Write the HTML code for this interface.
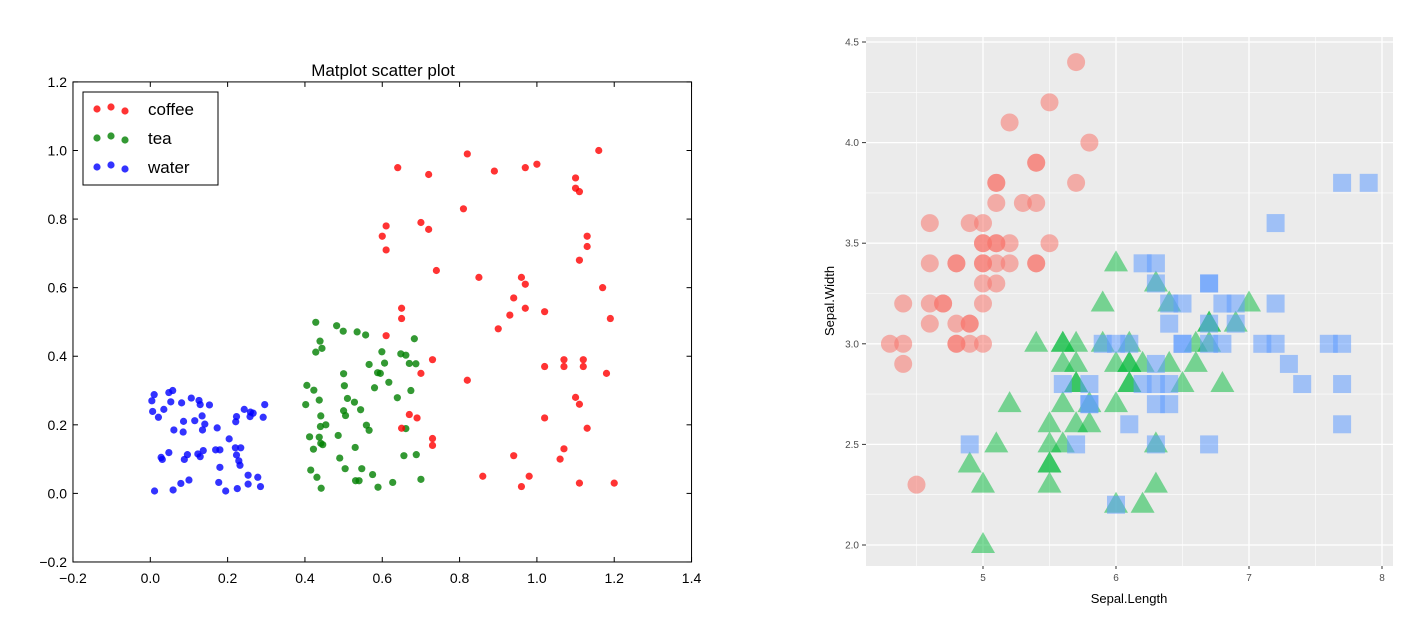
<!DOCTYPE html>
<html><head><meta charset="utf-8"><style>
body{margin:0;background:#fff;}
svg text{font-family:"Liberation Sans",sans-serif;}
</style></head><body>
<svg id="root" width="1425" height="639" xmlns="http://www.w3.org/2000/svg">
<g id="left"></g>
<g id="right"></g>
</svg>
<script>
const coffee=[[0.82,0.99],[0.64,0.95],[0.72,0.93],[0.89,0.94],[0.97,0.95],[1.00,0.96],[1.10,0.92],[1.10,0.89],[1.11,0.88],[1.16,1.00],[0.81,0.83],[0.61,0.78],[0.60,0.75],[0.61,0.71],[0.70,0.79],[0.72,0.77],[1.13,0.75],[1.13,0.72],[1.11,0.68],[0.74,0.65],[0.85,0.63],[0.96,0.63],[0.97,0.61],[1.17,0.60],[0.94,0.57],[0.97,0.54],[0.93,0.52],[1.02,0.53],[1.19,0.51],[0.65,0.54],[0.65,0.51],[0.90,0.48],[0.61,0.46],[0.73,0.39],[0.70,0.35],[0.82,0.33],[1.02,0.37],[1.07,0.39],[1.07,0.37],[1.12,0.39],[1.12,0.37],[1.18,0.35],[1.10,0.28],[1.11,0.26],[1.02,0.22],[1.13,0.19],[0.67,0.23],[0.69,0.22],[0.65,0.19],[0.73,0.16],[0.73,0.14],[1.07,0.13],[0.94,0.11],[1.06,0.10],[0.86,0.05],[0.98,0.05],[0.96,0.02],[1.11,0.03],[1.20,0.03]];
const tea=[[0.428,0.499],[0.482,0.489],[0.499,0.473],[0.535,0.471],[0.557,0.462],[0.683,0.451],[0.439,0.444],[0.444,0.423],[0.428,0.412],[0.599,0.413],[0.648,0.407],[0.661,0.403],[0.606,0.380],[0.566,0.376],[0.670,0.379],[0.687,0.378],[0.500,0.349],[0.588,0.352],[0.595,0.350],[0.405,0.315],[0.423,0.301],[0.502,0.314],[0.617,0.324],[0.580,0.308],[0.674,0.300],[0.437,0.272],[0.510,0.277],[0.528,0.266],[0.639,0.279],[0.402,0.259],[0.544,0.244],[0.500,0.241],[0.505,0.227],[0.441,0.226],[0.454,0.200],[0.440,0.195],[0.559,0.199],[0.566,0.184],[0.661,0.189],[0.412,0.165],[0.437,0.164],[0.486,0.169],[0.441,0.146],[0.446,0.142],[0.422,0.129],[0.530,0.134],[0.490,0.103],[0.656,0.110],[0.688,0.113],[0.415,0.068],[0.504,0.072],[0.547,0.072],[0.431,0.047],[0.575,0.055],[0.531,0.037],[0.540,0.037],[0.700,0.041],[0.442,0.015],[0.589,0.018],[0.627,0.032]];
const water=[[0.010,0.288],[0.004,0.270],[0.006,0.239],[0.021,0.222],[0.035,0.245],[0.048,0.294],[0.058,0.300],[0.053,0.267],[0.081,0.264],[0.106,0.278],[0.126,0.271],[0.129,0.259],[0.153,0.258],[0.086,0.210],[0.115,0.212],[0.134,0.226],[0.141,0.202],[0.135,0.185],[0.061,0.185],[0.085,0.179],[0.173,0.191],[0.204,0.159],[0.223,0.224],[0.221,0.209],[0.243,0.245],[0.259,0.237],[0.266,0.234],[0.258,0.224],[0.292,0.222],[0.296,0.259],[0.028,0.105],[0.031,0.099],[0.048,0.119],[0.088,0.099],[0.096,0.113],[0.123,0.115],[0.129,0.107],[0.137,0.125],[0.169,0.127],[0.180,0.127],[0.220,0.133],[0.234,0.133],[0.223,0.112],[0.229,0.095],[0.232,0.082],[0.180,0.076],[0.100,0.039],[0.079,0.029],[0.059,0.010],[0.011,0.007],[0.177,0.032],[0.195,0.007],[0.225,0.014],[0.253,0.053],[0.278,0.047],[0.253,0.027],[0.285,0.020]];
const leftXTicks=[-0.2,0.0,0.2,0.4,0.6,0.8,1.0,1.2,1.4];
const leftYTicks=[-0.2,0.0,0.2,0.4,0.6,0.8,1.0,1.2];

const setosa=[[5.7,4.4],[5.5,4.2],[5.2,4.1],[5.8,4.0],[5.4,3.9],[5.4,3.9],[5.1,3.8],[5.1,3.8],[5.7,3.8],[5.1,3.7],[5.3,3.7],[5.4,3.7],[4.6,3.6],[4.9,3.6],[5.0,3.6],[5.0,3.5],[5.0,3.5],[5.1,3.5],[5.1,3.5],[5.2,3.5],[5.5,3.5],[4.6,3.4],[4.8,3.4],[4.8,3.4],[5.0,3.4],[5.0,3.4],[5.1,3.4],[5.2,3.4],[5.4,3.4],[5.4,3.4],[5.0,3.3],[5.1,3.3],[4.4,3.2],[4.6,3.2],[4.7,3.2],[4.7,3.2],[5.0,3.2],[4.6,3.1],[4.8,3.1],[4.9,3.1],[4.9,3.1],[4.3,3.0],[4.4,3.0],[4.8,3.0],[4.8,3.0],[4.9,3.0],[5.0,3.0],[4.4,2.9],[4.5,2.3]];
const versicolor=[[6.0,3.4],[5.9,3.2],[6.3,3.3],[6.4,3.2],[7.0,3.2],[6.7,3.1],[6.7,3.1],[6.9,3.1],[5.4,3.0],[5.6,3.0],[5.6,3.0],[5.7,3.0],[5.9,3.0],[6.1,3.0],[6.6,3.0],[6.7,3.0],[5.6,2.9],[5.7,2.9],[6.0,2.9],[6.1,2.9],[6.1,2.9],[6.2,2.9],[6.4,2.9],[6.6,2.9],[5.7,2.8],[5.7,2.8],[6.1,2.8],[6.1,2.8],[6.5,2.8],[6.8,2.8],[5.2,2.7],[5.6,2.7],[5.8,2.7],[6.0,2.7],[5.5,2.6],[5.7,2.6],[5.8,2.6],[5.1,2.5],[5.5,2.5],[5.6,2.5],[6.3,2.5],[4.9,2.4],[5.5,2.4],[5.5,2.4],[5.0,2.3],[5.5,2.3],[6.3,2.3],[6.0,2.2],[6.2,2.2],[5.0,2.0]];
const virginica=[[7.7,3.8],[7.9,3.8],[7.2,3.6],[6.2,3.4],[6.3,3.4],[6.3,3.3],[6.7,3.3],[6.7,3.3],[6.4,3.2],[6.5,3.2],[6.8,3.2],[6.9,3.2],[7.2,3.2],[6.4,3.1],[6.7,3.1],[6.9,3.1],[5.9,3.0],[6.0,3.0],[6.1,3.0],[6.5,3.0],[6.5,3.0],[6.7,3.0],[6.8,3.0],[7.1,3.0],[7.2,3.0],[7.6,3.0],[7.7,3.0],[6.3,2.9],[7.3,2.9],[5.6,2.8],[5.8,2.8],[6.2,2.8],[6.3,2.8],[6.4,2.8],[7.4,2.8],[7.7,2.8],[5.8,2.7],[5.8,2.7],[6.3,2.7],[6.4,2.7],[6.1,2.6],[7.7,2.6],[4.9,2.5],[5.7,2.5],[6.3,2.5],[6.7,2.5],[6.0,2.2]];
const rightXTicks=[5,6,7,8];
const rightYTicks=[2.0,2.5,3.0,3.5,4.0,4.5];

const NS="http://www.w3.org/2000/svg";
function mk(parent,tag,attrs,text){const e=document.createElementNS(NS,tag);for(const k in attrs)e.setAttribute(k,attrs[k]);if(text!==undefined)e.textContent=text;parent.appendChild(e);return e;}

// LEFT
const L=document.getElementById('left');
const lx=v=>150.3+v*386.6, ly=v=>493.4-v*342.9;
let t=mk(L,'text',{x:383,y:76,'text-anchor':'middle','font-size':17,fill:'#000'},'Matplot scatter plot');

function dots(arr,col,name){arr.forEach(p=>{const c=mk(L,'circle',{cx:lx(p[0]),cy:ly(p[1]),r:3.6,fill:col,'fill-opacity':0.8});

});}
dots(water,'#0000ff','water-point');dots(tea,'#008000','tea-point');dots(coffee,'#ff0000','coffee-point');
let fr=mk(L,'rect',{x:lx(-0.2),y:ly(1.2),width:lx(1.4)-lx(-0.2),height:ly(-0.2)-ly(1.2),fill:'none',stroke:'#000','stroke-width':1});

leftXTicks.forEach(v=>{mk(L,'line',{x1:lx(v),x2:lx(v),y1:ly(-0.2),y2:ly(-0.2)-5,stroke:'#000'});mk(L,'line',{x1:lx(v),x2:lx(v),y1:ly(1.2),y2:ly(1.2)+5,stroke:'#000'});
const e=mk(L,'text',{x:lx(v),y:583,'text-anchor':'middle','font-size':14},(v<0?'\u22120.2':v.toFixed(1)));

});
leftYTicks.forEach(v=>{mk(L,'line',{x1:lx(-0.2),x2:lx(-0.2)+5,y1:ly(v),y2:ly(v),stroke:'#000'});mk(L,'line',{x1:lx(1.4),x2:lx(1.4)-5,y1:ly(v),y2:ly(v),stroke:'#000'});
const e=mk(L,'text',{x:67,y:ly(v)+5,'text-anchor':'end','font-size':14},(v<0?'\u22120.2':v.toFixed(1)));

});
let lg=mk(L,'rect',{x:83,y:92,width:135,height:93,fill:'#fff',stroke:'#000'});

[['coffee','#ff0000'],['tea','#008000'],['water','#0000ff']].forEach((s,i)=>{const yy=109+i*29;
[97,111,125].forEach((xx,j)=>mk(L,'circle',{cx:xx,cy:yy+(j==1?-2:(j==2?2:0)),r:3.6,fill:s[1],'fill-opacity':0.8}));
const e=mk(L,'text',{x:148,y:yy+6,'font-size':17},s[0]);

});

// RIGHT
const R=document.getElementById('right');
const rx=v=>983+(v-5)*133, ry=v=>545-(v-2)*201.2;
let bg=mk(R,'rect',{x:866,y:37,width:527,height:529,fill:'#ebebeb'});

for(let v=4.5;v<=8;v+=0.5){if(rx(v)>866&&rx(v)<1393)mk(R,'line',{x1:rx(v),x2:rx(v),y1:37,y2:566,stroke:'#fff','stroke-width':v%1==0?1.3:0.6});}
for(let v=2.0;v<=4.5;v+=0.25){mk(R,'line',{x1:866,x2:1393,y1:ry(v),y2:ry(v),stroke:'#fff','stroke-width':(v*2)%1==0?1.3:0.6});}
setosa.forEach(p=>{const c=mk(R,'circle',{cx:rx(p[0]),cy:ry(p[1]),r:9,fill:'#F8766D','fill-opacity':0.55});

});
versicolor.forEach(p=>{const x=rx(p[0]),y=ry(p[1]);const c=mk(R,'polygon',{points:`${x},${y-13} ${x-12},${y+8} ${x+12},${y+8}`,fill:'#00BA38','fill-opacity':0.5});

});
virginica.forEach(p=>{const c=mk(R,'rect',{x:rx(p[0])-9,y:ry(p[1])-9,width:18,height:18,fill:'#619CFF','fill-opacity':0.55});

});
rightXTicks.forEach(v=>{mk(R,'line',{x1:rx(v),x2:rx(v),y1:566,y2:569,stroke:'#333'});
const e=mk(R,'text',{x:rx(v),y:581,'text-anchor':'middle','font-size':10,fill:'#4d4d4d'},String(v));

});
rightYTicks.forEach(v=>{mk(R,'line',{x1:862,x2:866,y1:ry(v),y2:ry(v),stroke:'#333'});
const e=mk(R,'text',{x:859,y:ry(v)+3.5,'text-anchor':'end','font-size':10,fill:'#4d4d4d'},v.toFixed(1));

});
let xt=mk(R,'text',{x:1129,y:603,'text-anchor':'middle','font-size':13,fill:'#000'},'Sepal.Length');

let yt=mk(R,'text',{x:0,y:0,'text-anchor':'middle','font-size':13,fill:'#000',transform:'translate(834,301) rotate(-90)'},'Sepal.Width');

</script>
</body></html>
